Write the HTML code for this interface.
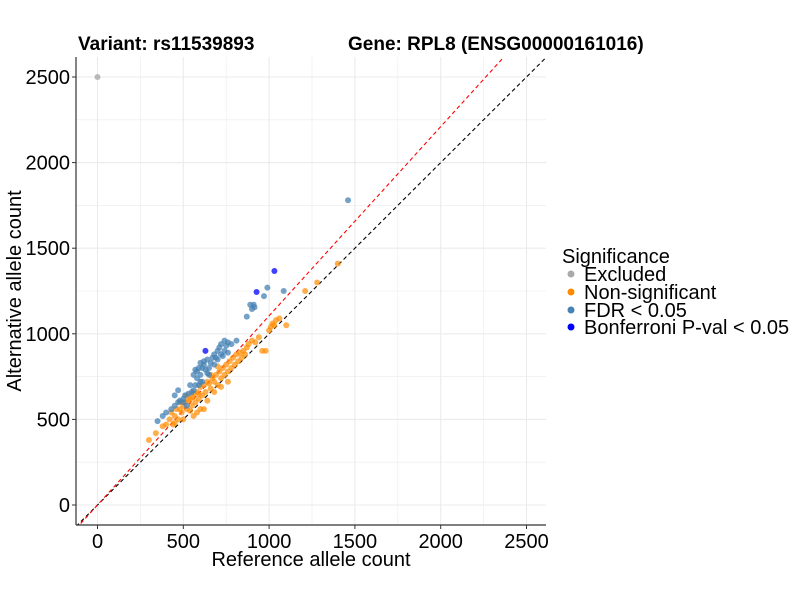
<!DOCTYPE html>
<html><head><meta charset="utf-8"><style>
body{margin:0;background:#fff}
svg{font-family:"Liberation Sans",Arial,sans-serif}
</style></head><body>
<svg id="chart" width="800" height="600" viewBox="0 0 800 600">
<g id="grid"></g>
<g id="lines"></g>
<g id="points"></g>
<g id="axes"></g>
<text x="78" y="50" font-size="19" font-weight="bold">Variant: rs11539893</text>
<text x="348" y="50" font-size="19" font-weight="bold">Gene: RPL8 (ENSG00000161016)</text>
<text x="311" y="566" font-size="20" text-anchor="middle">Reference allele count</text>
<text transform="translate(21,291) rotate(-90)" font-size="20" text-anchor="middle">Alternative allele count</text>
<g>
<text x="562" y="263" font-size="20">Significance</text>
<g><circle cx="571" cy="274" r="3.5" fill="#aaaaaa"/><text x="584" y="281" font-size="20">Excluded</text></g>
<g><circle cx="571" cy="292" r="3.5" fill="#FF8C00"/><text x="584" y="299" font-size="20">Non-significant</text></g>
<g><circle cx="571" cy="310" r="3.5" fill="#4682B4"/><text x="584" y="317" font-size="20">FDR &lt; 0.05</text></g>
<g><circle cx="571" cy="327" r="3.5" fill="#0000FF"/><text x="584" y="334" font-size="20">Bonferroni P-val &lt; 0.05</text></g>
</g>
</svg>
<script>
const xTicks=[0,500,1000,1500,2000,2500];
const yTicks=[0,500,1000,1500,2000,2500];
const excluded=[[0,2500]];
const fdr=[[350,490],[380,520],[400,540],[430,560],[450,580],[470,600],[480,610],[500,620],[510,640],[530,650],[550,660],[560,670],[540,700],[570,700],[590,700],[600,720],[560,760],[570,790],[580,780],[600,760],[610,800],[620,820],[630,790],[640,770],[650,760],[600,830],[620,840],[640,850],[660,830],[670,860],[680,880],[690,860],[700,900],[710,920],[720,880],[730,870],[740,900],[750,930],[760,890],[680,820],[700,850],[720,940],[740,960],[760,950],[780,940],[810,960],[870,1100],[890,1170],[910,1170],[900,1145],[915,1155],[970,1220],[990,1270],[1085,1250],[1460,1780],[500,600],[650,800],[580,740],[520,580],[610,720],[450,640],[470,670],[590,800]];
const nonsig=[[300,380],[340,420],[380,460],[400,470],[420,500],[430,540],[450,520],[460,560],[470,500],[480,560],[490,540],[500,580],[510,600],[520,560],[530,610],[540,620],[550,580],[560,650],[570,600],[580,660],[590,620],[600,690],[610,640],[620,700],[630,660],[640,720],[650,710],[660,680],[670,740],[680,720],[690,760],[700,700],[710,780],[720,740],[730,800],[740,760],[750,820],[760,780],[770,840],[780,800],[790,860],[800,820],[810,880],[820,840],[830,890],[840,860],[850,900],[860,880],[870,920],[880,940],[900,960],[920,950],[940,980],[960,900],[980,900],[1000,1020],[1010,1040],[1020,1060],[1030,1050],[1040,1080],[1060,1090],[1100,1050],[1210,1250],[1280,1300],[1400,1410],[560,520],[600,560],[640,610],[680,660],[720,690],[760,720],[520,640],[480,600],[450,480],[620,560],[580,540],[590,650],[555,630],[660,760],[700,810],[540,550],[500,500],[440,470]];
const bonf=[[1031,1367],[927,1244],[629,900]];
const redSlope=1.105;
const X0=76,X1=546,Y0=57,Y1=525;
const xs=v=>97.5+v*0.1716;
const ys=v=>505-v*0.1712;
const xMin=(X0-97.5)/0.1716,xMax=(X1-97.5)/0.1716;
const NS="http://www.w3.org/2000/svg";
function mk(tag,attrs,parent){const e=document.createElementNS(NS,tag);for(const k in attrs)e.setAttribute(k,attrs[k]);parent.appendChild(e);return e;}
const grid=document.getElementById('grid'),axes=document.getElementById('axes'),pts=document.getElementById('points'),lines=document.getElementById('lines');
for(let v=-250;v<=2750;v+=250){
 const x=xs(v);if(x>=X0&&x<=X1){const l=mk('line',{x1:x,x2:x,y1:Y0,y2:Y1,stroke:'#ebebeb','stroke-width':v%500?0.6:1.1},grid);
 }
 const y=ys(v);if(y>=Y0&&y<=Y1){const l=mk('line',{x1:X0,x2:X1,y1:y,y2:y,stroke:'#ebebeb','stroke-width':v%500?0.6:1.1},grid);
 }
}
const cp=mk('clipPath',{id:'clip'},document.getElementById('chart'));mk('rect',{x:X0,y:Y0,width:X1-X0,height:Y1-Y0},cp);
lines.setAttribute('clip-path','url(#clip)');
const bl=mk('line',{x1:xs(xMin),y1:ys(xMin),x2:xs(xMax),y2:ys(xMax),stroke:'#000','stroke-width':1.1,'stroke-dasharray':'4,3'},lines);

const rl=mk('line',{x1:xs(xMin),y1:ys(xMin*redSlope),x2:xs(xMax),y2:ys(xMax*redSlope),stroke:'#ff0000','stroke-width':1.1,'stroke-dasharray':'4,3'},lines);

function draw(arr,col,op,name){arr.forEach(d=>{const c=mk('circle',{cx:xs(d[0]),cy:ys(d[1]),r:3,fill:col,'fill-opacity':op},pts);
 });}
draw(excluded,'#aaaaaa',0.8,'point-excluded');
draw(nonsig,'#FF8C00',0.7,'point-non-significant');
draw(fdr,'#4682B4',0.75,'point-fdr');
draw(bonf,'#0000FF',0.75,'point-bonferroni');
mk('line',{x1:X0,x2:X0,y1:Y0,y2:Y1,stroke:'#333','stroke-width':1.2},axes);
mk('line',{x1:X0,x2:X1,y1:Y1,y2:Y1,stroke:'#333','stroke-width':1.2},axes);
xTicks.forEach(v=>{const x=xs(v);mk('line',{x1:x,x2:x,y1:Y1,y2:Y1+4,stroke:'#333'},axes);
 const t=mk('text',{x:x,y:Y1+23,'font-size':20,'text-anchor':'middle',fill:'#000'},axes);t.textContent=v;
 });
yTicks.forEach(v=>{const y=ys(v);mk('line',{x1:X0-4,x2:X0,y1:y,y2:y,stroke:'#333'},axes);
 const t=mk('text',{x:X0-6,y:y+7,'font-size':20,'text-anchor':'end',fill:'#000'},axes);t.textContent=v;
 });
</script>
</body></html>
